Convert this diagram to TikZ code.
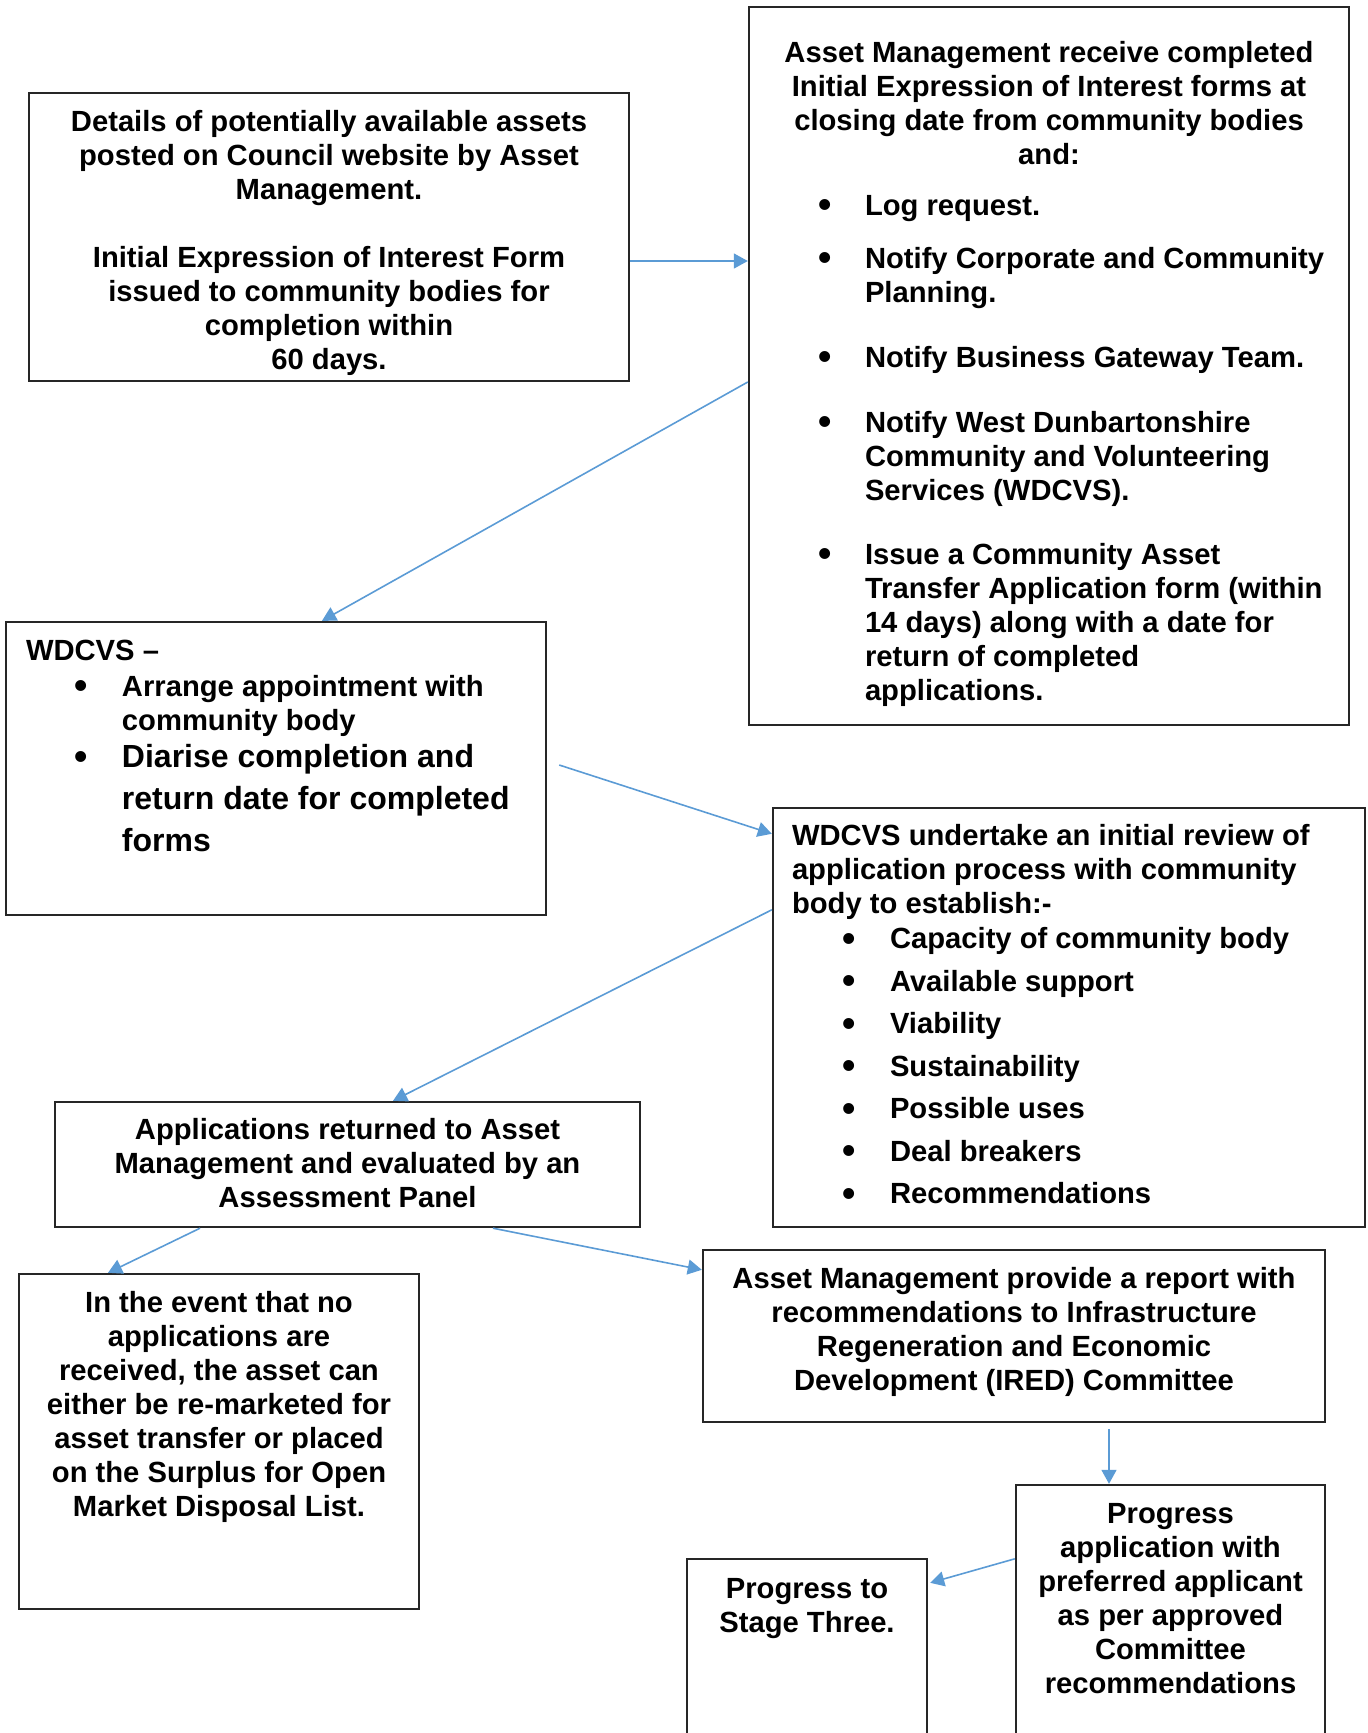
\documentclass[tikz,border=0pt]{standalone}
\usepackage{fontspec}
\setmainfont{Liberation Sans}
\usepackage{array}
\usepackage{graphicx}
\usetikzlibrary{arrows.meta}
\usetikzlibrary{calc}
\usetikzlibrary{positioning}
\definecolor{flowblue}{HTML}{5B9BD5}
\newcommand{\bul}{\raisebox{-2.5pt}{\scalebox{1.3}{\textbullet}}}
\newcommand{\bigtext}{\fontsize{32}{42}\selectfont}
\tikzset{
  x=1pt, y=-1pt,
  stage/.style={draw=black!85, line width=2.4pt, rectangle, inner sep=0pt},
  words/.style={inner sep=0pt, font=\bfseries\fontsize{29.2}{34}\selectfont},
  flow/.style={draw=flowblue, line width=1.6pt, -{Triangle[length=14pt,width=15pt]}}
}

\begin{document}
\begin{tikzpicture}
  \useasboundingbox (0,0) rectangle (1368,1733);
  \clip (0,0) rectangle (1368,1733);

  % boxes
  \node[stage, minimum width=600pt, minimum height=288pt] (details) at (329,237) {};
  \node[stage, minimum width=600pt, minimum height=718pt] (receive) at (1049,366) {};
  \node[stage, minimum width=540pt, minimum height=293pt] (wdcvs) at (276,768.5) {};
  \node[stage, minimum width=592pt, minimum height=419pt] (review) at (1069,1017.5) {};
  \node[stage, minimum width=585pt, minimum height=125pt] (returned) at (347.5,1164.5) {};
  \node[stage, minimum width=400pt, minimum height=335pt] (noapps) at (219,1441.5) {};
  \node[stage, minimum width=622pt, minimum height=172pt] (report) at (1014,1336) {};
  \node[stage, minimum width=309pt, minimum height=275pt] (preferred) at (1170.5,1622.5) {};
  \node[stage, minimum width=240pt, minimum height=201pt] (stagethree) at (807,1659.5) {};

  % texts
  \node[words, anchor=base] (detailsText) at ($(details.north)+(0,39.5)$) {\begin{tabular}[t]{@{}c@{}}
    Details of potentially available assets\\
    posted on Council website by Asset\\
    Management.\\
    \\
    Initial Expression of Interest Form\\
    issued to community bodies for\\
    completion within\\
    60 days.
  \end{tabular}};
  \node[words, anchor=base] (receiveHead) at ($(receive.north)+(0,56.5)$) {\begin{tabular}[t]{@{}c@{}}
    Asset Management receive completed\\
    Initial Expression of Interest forms at\\
    closing date from community bodies\\
    and:
  \end{tabular}};
  \node[words, anchor=base west] (receiveList) at ($(receive.north west)+(70,209.5)$) {\begin{tabular}[t]{@{}p{47pt}@{}l@{}}
    \bul & Log request.\\[19pt]
    \bul & Notify Corporate and Community\\
         & Planning.\\[31pt]
    \bul & Notify Business Gateway Team.\\[31pt]
    \bul & Notify West Dunbartonshire\\
         & Community and Volunteering\\
         & Services (WDCVS).\\[30pt]
    \bul & Issue a Community Asset\\
         & Transfer Application form (within\\
         & 14 days) along with a date for\\
         & return of completed\\
         & applications.
  \end{tabular}};
  \node[words, anchor=base west] (wdcvsText) at ($(wdcvs.north west)+(21,39.5)$) {\begin{tabular}[t]{@{}p{48pt}@{}p{48pt}@{}l@{}}
    \multicolumn{3}{@{}l@{}}{WDCVS –}\\[2pt]
    & \bul & Arrange appointment with\\
    &      & community body\\[3pt]
    & \bul & \bigtext Diarise completion and\\[8pt]
    &      & \bigtext return date for completed\\[8pt]
    &      & \bigtext forms
  \end{tabular}};
  \node[words, anchor=base west] (reviewText) at ($(review.north west)+(20,39)$) {\begin{tabular}[t]{@{}p{50pt}@{}p{48pt}@{}l@{}}
    \multicolumn{3}{@{}l@{}}{WDCVS undertake an initial review of}\\
    \multicolumn{3}{@{}l@{}}{application process with community}\\
    \multicolumn{3}{@{}l@{}}{body to establish:-}\\[1pt]
    & \bul & Capacity of community body\\[8.5pt]
    & \bul & Available support\\[8.5pt]
    & \bul & Viability\\[8.5pt]
    & \bul & Sustainability\\[8.5pt]
    & \bul & Possible uses\\[8.5pt]
    & \bul & Deal breakers\\[8.5pt]
    & \bul & Recommendations
  \end{tabular}};
  \node[words, anchor=base] (returnedText) at ($(returned.north)+(0,38.5)$) {\begin{tabular}[t]{@{}c@{}}
    Applications returned to Asset\\
    Management and evaluated by an\\
    Assessment Panel
  \end{tabular}};
  \node[words, anchor=base] (noappsText) at ($(noapps.north)+(0,39.5)$) {\begin{tabular}[t]{@{}c@{}}
    In the event that no\\
    applications are\\
    received, the asset can\\
    either be re-marketed for\\
    asset transfer or placed\\
    on the Surplus for Open\\
    Market Disposal List.
  \end{tabular}};
  \node[words, anchor=base] (reportText) at ($(report.north)+(0,39.5)$) {\begin{tabular}[t]{@{}c@{}}
    Asset Management provide a report with\\
    recommendations to Infrastructure\\
    Regeneration and Economic\\
    Development (IRED) Committee
  \end{tabular}};
  \node[words, anchor=base] (preferredText) at ($(preferred.north)+(0,40)$) {\begin{tabular}[t]{@{}c@{}}
    Progress\\
    application with\\
    preferred applicant\\
    as per approved\\
    Committee\\
    recommendations
  \end{tabular}};
  \node[words, anchor=base] (stagethreeText) at ($(stagethree.north)+(0,40.5)$) {\begin{tabular}[t]{@{}c@{}}
    Progress to\\
    Stage Three.
  \end{tabular}};

  % connectors
  \draw[flow] ([yshift=-24pt]details.east) -- ([yshift=-24pt]details.east -| receive.west);
  \draw[flow] ([yshift=-16pt]receive.west) -- ([xshift=46pt]wdcvs.north);
  \draw[flow] ([xshift=12pt,yshift=3.5pt]wdcvs.east) -- ([yshift=-27pt]review.north west);
  \draw[flow] ([yshift=-103pt]review.north west) -- ([xshift=45.5pt]returned.north);
  \draw[flow] ([xshift=-147.5pt]returned.south) -- ([xshift=-111pt]noapps.north);
  \draw[flow] ([xshift=145.5pt]returned.south) -- ([yshift=-21pt]report.north west);
  \draw[flow] ([xshift=95pt,yshift=-6pt]report.south) -- ([xshift=-61.5pt]preferred.north);
  \draw[flow] ([yshift=-75pt]preferred.north west) -- ([xshift=2pt,yshift=-25pt]stagethree.north east);
\end{tikzpicture}
\end{document}
